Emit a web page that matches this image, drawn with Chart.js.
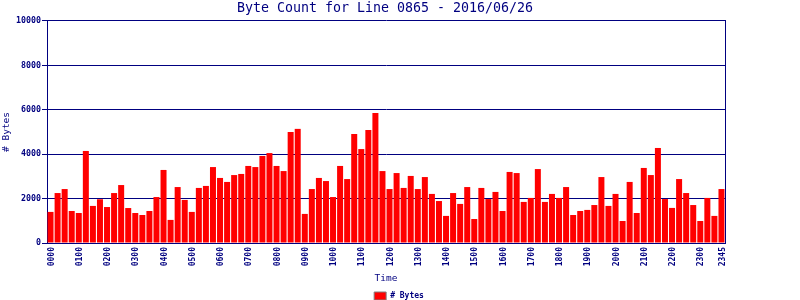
<!DOCTYPE html>
<html>
<head>
<meta charset="utf-8">
<script src="https://cdn.jsdelivr.net/npm/chart.js@4/dist/chart.umd.min.js"></script>
<style>
  html, body { margin: 0; padding: 0; background: #fff; }
  canvas { display: block; }
</style>
</head>
<body>
<canvas id="chart" width="800" height="300"></canvas>
<script>
const NAVY = '#000080';
const title = 'Byte Count for Line 0865 - 2016/06/26';
const seriesName = '# Bytes';

// 15 minute slots, 0000 .. 2345
const slots = [];
for (let h = 0; h < 24; h++) for (const m of ['00', '15', '30', '45']) slots.push(String(h).padStart(2, '0') + m);

const bytes = [
  1400, 2250, 2430, 1440, 1350, 4145, 1670, 1970, 1620, 2250, 2610, 1575,
  1350, 1260, 1440, 2070, 3290, 1040, 2520, 1940, 1400, 2480, 2570, 3420,
  2930, 2750, 3060, 3110, 3470, 3420, 3920, 4050, 3470, 3240, 5000, 5140,
  1310, 2430, 2930, 2790, 2070, 3470, 2880, 4910, 4230, 5090, 5860, 3240,
  2430, 3150, 2480, 3020, 2430, 2970, 2210, 1890, 1220, 2250, 1760, 2520,
  1080, 2480, 1980, 2300, 1440, 3200, 3150, 1850, 2030, 3330, 1850, 2210,
  2030, 2520, 1260, 1440, 1490, 1710, 2970, 1670, 2210, 990, 2750, 1350,
  3380, 3060, 4280, 1980, 1580, 2880, 2250, 1710, 990, 2030, 1220, 2430
];

const yTicks = [0, 2000, 4000, 6000, 8000, 10000];

Chart.defaults.font.family = '"DejaVu Sans Mono", monospace';
Chart.defaults.color = NAVY;

// legend in the original sits a bit right of the plot centre
const nudgeLegend = {
  id: 'nudgeLegend',
  afterLayout(chart) {
    const lg = chart.legend;
    if (lg) { lg.left += 14; lg.right += 14; }
  }
};

new Chart(document.getElementById('chart'), {
  type: 'bar',
  data: {
    labels: slots,
    datasets: [{
      label: seriesName,
      data: bytes,
      backgroundColor: '#ff0000',
      borderWidth: 0,
      barPercentage: 0.85,
      categoryPercentage: 1.0
    }]
  },
  plugins: [nudgeLegend],
  options: {
    responsive: false,
    animation: false,
    devicePixelRatio: 1,
    layout: { padding: { left: 0, right: 30, top: 0, bottom: -10 } },
    plugins: {
      title: {
        display: true, text: title, color: NAVY,
        font: { size: 13.3, weight: 'normal' },
        padding: { top: 1, bottom: 4 }
      },
      legend: {
        position: 'bottom',
        labels: {
          boxWidth: 12, boxHeight: 8, padding: 2, color: NAVY,
          font: { size: 8, weight: 'bold' },
          generateLabels: () => [{ text: seriesName, fillStyle: '#ff0000', strokeStyle: '#808080', lineWidth: 1, fontColor: NAVY }]
        }
      },
      tooltip: { enabled: false }
    },
    scales: {
      x: {
        grid: { display: false, drawTicks: false },
        border: { color: NAVY, width: 1 },
        ticks: {
          autoSkip: false, minRotation: 90, maxRotation: 90, padding: 4, labelOffset: 1,
          font: { size: 8, weight: 'bold' }, color: NAVY,
          callback: (v, i) => (i % 4 === 0 || i === slots.length - 1) ? slots[i] : ''
        },
        title: { display: true, text: 'Time', color: NAVY, font: { size: 9.5 }, padding: { top: 0, bottom: 6 } },
        afterFit: s => { s.height = 47; }
      },
      y: {
        min: 0, max: 10000,
        afterBuildTicks: s => { s.ticks = yTicks.map(v => ({ value: v })); },
        grid: { color: NAVY, lineWidth: 1, tickLength: 5 },
        border: { color: NAVY, width: 1 },
        ticks: { padding: 1, font: { size: 8.3, weight: 'bold' }, color: NAVY, callback: v => String(v) },
        title: { display: true, text: '# Bytes', color: NAVY, font: { size: 9.5 }, padding: { top: 1, bottom: 0 } },
        afterFit: s => { s.width = 47; }
      },
      y2: {
        position: 'right',
        grid: { display: false },
        ticks: { display: false },
        border: { color: NAVY, width: 1 },
        afterFit: s => { s.width = 45; }
      }
    }
  }
});
</script>
</body>
</html>
